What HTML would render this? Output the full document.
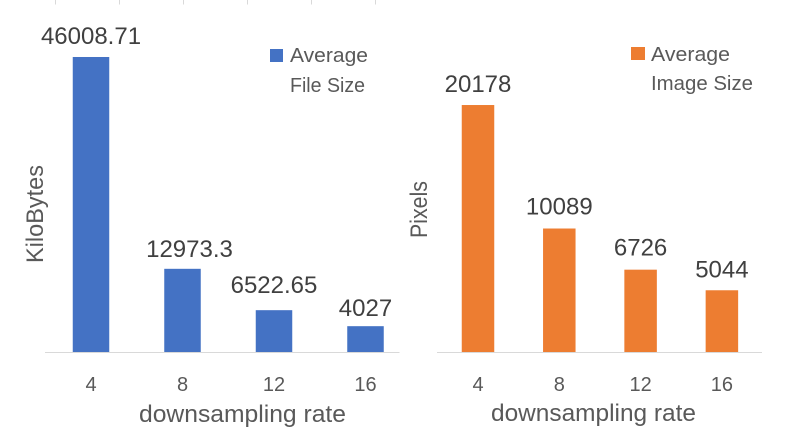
<!DOCTYPE html>
<html lang="en">
<head>
<meta charset="utf-8">
<title>Average file size and image size by downsampling rate</title>
<style>
  html, body { margin: 0; padding: 0; background: #ffffff; }
  body { width: 795px; height: 442px; overflow: hidden; }
  svg { display: block; font-family: "Liberation Sans", Arial, sans-serif; }
  .value-label { font-size: 24px; fill: #404040; text-anchor: middle; }
  .category-label { font-size: 20px; fill: #595959; text-anchor: middle; }
  .axis-title { font-size: 24px; fill: #595959; }
  .legend-text { font-size: 20.5px; fill: #595959; }
</style>
</head>
<body>
<svg id="chart" width="795" height="442" viewBox="0 0 795 442" xmlns="http://www.w3.org/2000/svg">
  <rect x="0" y="0" width="795" height="442" fill="#ffffff"></rect>

  <g stroke="#d9d9d9" stroke-width="1">
    <line x1="55.5" y1="0" x2="55.5" y2="4.5"></line>
    <line x1="119.5" y1="0" x2="119.5" y2="4.5"></line>
    <line x1="183.5" y1="0" x2="183.5" y2="4.5"></line>
    <line x1="247.5" y1="0" x2="247.5" y2="4.5"></line>
    <line x1="311.5" y1="0" x2="311.5" y2="4.5"></line>
    <line x1="375.5" y1="0" x2="375.5" y2="4.5"></line>
  </g>

  <g id="file-size-chart">
    <line x1="45" y1="352.5" x2="399.5" y2="352.5" stroke="#d9d9d9" stroke-width="1"></line>
    <text class="axis-title" transform="translate(43,263) rotate(-90)" textLength="98" lengthAdjust="spacingAndGlyphs">KiloBytes</text>
    <text class="axis-title" x="139" y="422" textLength="207" lengthAdjust="spacingAndGlyphs">downsampling rate</text>
    <g>
      <rect x="270" y="49" width="13" height="13" fill="#4472C4"></rect>
      <text class="legend-text">
        <tspan x="290" y="62" textLength="78" lengthAdjust="spacingAndGlyphs">Average</tspan>
        <tspan x="290" y="92" textLength="75" lengthAdjust="spacingAndGlyphs">File Size</tspan>
      </text>
    </g>
  </g>

  <g id="image-size-chart">
    <line x1="437" y1="352.5" x2="762" y2="352.5" stroke="#d9d9d9" stroke-width="1"></line>
    <text class="axis-title" transform="translate(427,238) rotate(-90)" textLength="57" lengthAdjust="spacingAndGlyphs">Pixels</text>
    <text class="axis-title" x="491" y="421" textLength="205" lengthAdjust="spacingAndGlyphs">downsampling rate</text>
    <g>
      <rect x="631" y="47" width="14" height="13" fill="#ED7D31"></rect>
      <text class="legend-text">
        <tspan x="651" y="61" textLength="79" lengthAdjust="spacingAndGlyphs">Average</tspan>
        <tspan x="651" y="90" textLength="102" lengthAdjust="spacingAndGlyphs">Image Size</tspan>
      </text>
    </g>
  </g>
</svg>

<script>
// Chart data
const categories = ['4', '8', '12', '16'];
const fileSizeValues = [46008.71, 12973.3, 6522.65, 4027];
const imageSizeValues = [20178, 10089, 6726, 5044];

// Hand-placed data-label offsets (layout only, not data)
const fileSizeLabelShiftX = [0, 7, 0, 0];
const fileSizeLabelGap = [13, 12, 17, 10];
const imageSizeLabelShiftX = [0, 0, 0, 0];
const imageSizeLabelGap = [13, 14, 14, 13];

const SVG_NS = 'http://www.w3.org/2000/svg';
const BASELINE_Y = 352;

// Axis functions
function makeYScale(domainMax, plotTop) {
  return function (value) {
    return BASELINE_Y - (value / domainMax) * (BASELINE_Y - plotTop);
  };
}
function makeXScale(firstCenter, step) {
  return function (index) {
    return firstCenter + index * step;
  };
}

function drawSeries(group, prefix, values, xScale, yScale, barWidth, color, shiftX, gap, tickY) {
  values.forEach(function (value, i) {
    const cx = xScale(i);
    const top = yScale(value);

    const bar = document.createElementNS(SVG_NS, 'rect');
    
    
    bar.setAttribute('x', cx - barWidth / 2);
    bar.setAttribute('y', top);
    bar.setAttribute('width', barWidth);
    bar.setAttribute('height', BASELINE_Y - top);
    bar.setAttribute('fill', color);
    group.appendChild(bar);

    const label = document.createElementNS(SVG_NS, 'text');
    
    
    label.setAttribute('class', 'value-label');
    label.setAttribute('x', cx + shiftX[i]);
    label.setAttribute('y', top - gap[i]);
    label.textContent = String(value);
    group.appendChild(label);

    const tick = document.createElementNS(SVG_NS, 'text');
    
    
    tick.setAttribute('class', 'category-label');
    tick.setAttribute('x', cx);
    tick.setAttribute('y', tickY);
    tick.textContent = categories[i];
    group.appendChild(tick);
  });
}

drawSeries(
  document.getElementById('file-size-chart'),
  'file-size',
  fileSizeValues,
  makeXScale(91, 91.5),
  makeYScale(50000, 31.4),
  36.5,
  '#4472C4',
  fileSizeLabelShiftX,
  fileSizeLabelGap,
  391
);

drawSeries(
  document.getElementById('image-size-chart'),
  'image-size',
  imageSizeValues,
  makeXScale(478, 81.3),
  makeYScale(25000, 46),
  32.5,
  '#ED7D31',
  imageSizeLabelShiftX,
  imageSizeLabelGap,
  391
);
</script>
</body>
</html>
